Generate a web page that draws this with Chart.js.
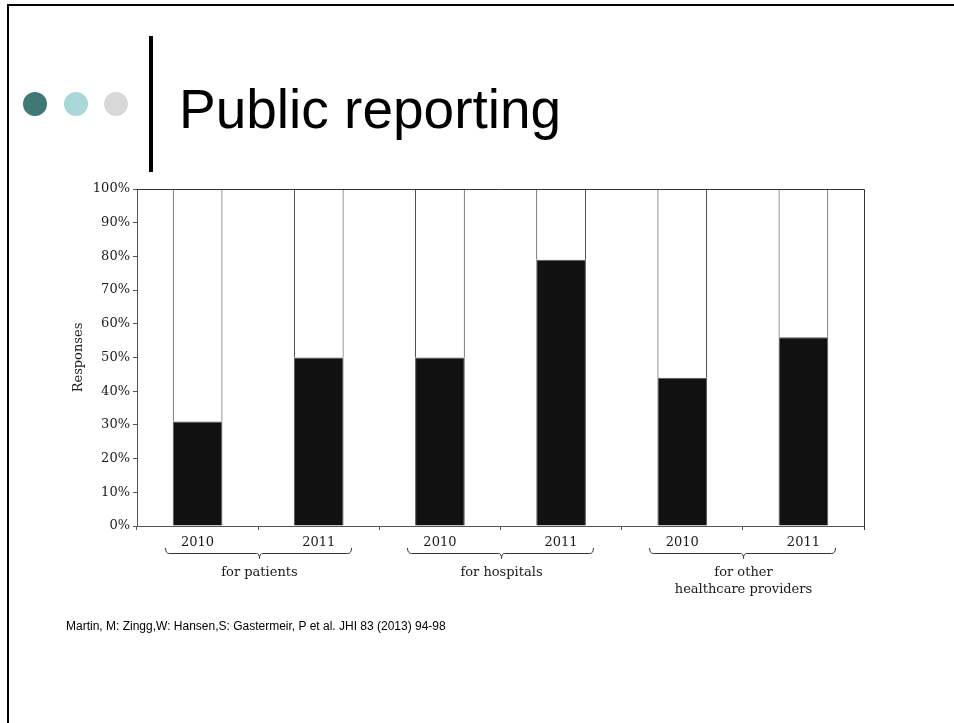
<!DOCTYPE html>
<html>
<head>
<meta charset="utf-8">
<title>Public reporting</title>
<script src="https://cdn.jsdelivr.net/npm/chart.js@4.4.1/dist/chart.umd.min.js"></script>
<style>
  html, body { margin: 0; padding: 0; background: #fff; }
  body { width: 954px; height: 723px; position: relative; overflow: hidden; }
  .frame-top { position: absolute; left: 7px; top: 4px; right: 0; height: 2px; background: #000; }
  .frame-left { position: absolute; left: 7px; top: 4px; bottom: 0; width: 2px; background: #000; }
  .dot { position: absolute; width: 24px; height: 24px; border-radius: 50%; top: 92px; }
  .rule { position: absolute; left: 149px; top: 36px; width: 4px; height: 136px; background: #000; }
  .title { position: absolute; left: 179px; top: 77px; font: 55px "Liberation Sans", Arial, sans-serif; color: #000; white-space: nowrap; }
  .cite { position: absolute; left: 66px; top: 619px; font: 12px "Liberation Sans", Arial, sans-serif; color: #000; white-space: nowrap; }
  #chart { position: absolute; left: 0; top: 0; }
</style>
</head>
<body>
<div class="frame-top"></div>
<div class="frame-left"></div>
<div class="dot" style="left:23px;background:#3f7877"></div>
<div class="dot" style="left:64px;background:#aad7d9"></div>
<div class="dot" style="left:104px;background:#d8d8d8"></div>
<div class="rule"></div>
<div class="title">Public reporting</div>
<canvas id="chart" width="954" height="723"></canvas>
<div class="cite">Martin, M: Zingg,W: Hansen,S: Gastermeir, P et al. JHI 83 (2013) 94-98</div>

<script>
// --- Data ---
const years = ['2010', '2011', '2010', '2011', '2010', '2011'];
const groupLabels = [['for patients'], ['for hospitals'], ['for other', 'healthcare providers']];
const yesValues = [31, 50, 50, 79, 44, 56];
const restValues = [69, 50, 50, 21, 56, 44];

const serif = '"DejaVu Serif", "Liberation Serif", serif';

// --- Plot frame: top and right edges ---
const framePlugin = {
  id: 'frame',
  afterDatasetsDraw(chart) {
    const { ctx, chartArea: a } = chart;
    ctx.save();
    ctx.strokeStyle = '#333';
    ctx.lineWidth = 1;
    ctx.beginPath();
    ctx.moveTo(a.left, a.top + 0.5);
    ctx.lineTo(a.right + 0.5, a.top + 0.5);
    ctx.lineTo(a.right + 0.5, a.bottom + 4);
    ctx.stroke();
    ctx.restore();
  }
};

// --- Braces + group names under each pair of years ---
const bracePlugin = {
  id: 'braces',
  afterDraw(chart) {
    const { ctx, chartArea: a } = chart;
    const x = chart.scales.x;
    ctx.save();
    ctx.strokeStyle = '#333';
    ctx.lineWidth = 1;
    ctx.fillStyle = '#1a1a1a';
    ctx.font = '13px ' + serif;
    ctx.textAlign = 'center';
    ctx.textBaseline = 'middle';
    groupLabels.forEach((lines, g) => {
      const c0 = x.getPixelForValue(g * 2);
      const c1 = x.getPixelForValue(g * 2 + 1);
      const left = Math.round(c0 - 33) + 0.5;
      const right = Math.round(c1 + 32) + 0.5;
      const mid = Math.round((left + right) / 2) + 0.5;
      const yTop = a.bottom + 22;
      const yLine = a.bottom + 27.5;
      ctx.beginPath();
      ctx.moveTo(left, yTop);
      ctx.quadraticCurveTo(left, yLine, left + 4, yLine);
      ctx.lineTo(mid - 3, yLine);
      ctx.quadraticCurveTo(mid, yLine, mid, yLine + 5);
      ctx.quadraticCurveTo(mid, yLine, mid + 3, yLine);
      ctx.lineTo(right - 4, yLine);
      ctx.quadraticCurveTo(right, yLine, right, yTop);
      ctx.stroke();
      lines.forEach((t, i) => ctx.fillText(t, mid, a.bottom + 47 + i * 17));
    });
    ctx.restore();
  }
};

new Chart(document.getElementById('chart'), {
  type: 'bar',
  data: {
    labels: years,
    datasets: [
      {
        label: 'Yes',
        data: yesValues,
        backgroundColor: '#111',
        borderColor: '#555',
        borderWidth: 1,
        categoryPercentage: 1,
        barPercentage: 0.41
      },
      {
        label: 'Other',
        data: restValues,
        backgroundColor: '#fff',
        borderColor: '#333',
        borderWidth: 1,
        categoryPercentage: 1,
        barPercentage: 0.41
      }
    ]
  },
  options: {
    responsive: false,
    animation: false,
    layout: { padding: { left: 66, top: 189, right: 90, bottom: 157 } },
    plugins: {
      legend: { display: false },
      tooltip: { enabled: false }
    },
    scales: {
      x: {
        stacked: true,
        afterFit: s => { s.height = 40; },
        grid: { offset: true, drawOnChartArea: false, tickLength: 4, color: '#555' },
        border: { color: '#555', width: 1 },
        ticks: { font: { family: serif, size: 13 }, color: '#1a1a1a', padding: 5, maxRotation: 0, autoSkip: false }
      },
      y: {
        stacked: true,
        min: 0,
        max: 100,
        afterFit: s => { s.width = 71; },
        grid: { drawOnChartArea: false, tickLength: 4, color: '#555' },
        border: { color: '#555', width: 1 },
        ticks: { stepSize: 10, font: { family: serif, size: 13 }, color: '#1a1a1a', padding: 3, callback: v => v + '%' },
        title: { display: true, text: 'Responses', font: { family: serif, size: 13 }, color: '#1a1a1a', padding: { top: 5, bottom: 4 } }
      }
    }
  },
  plugins: [framePlugin, bracePlugin]
});
</script>
</body>
</html>
